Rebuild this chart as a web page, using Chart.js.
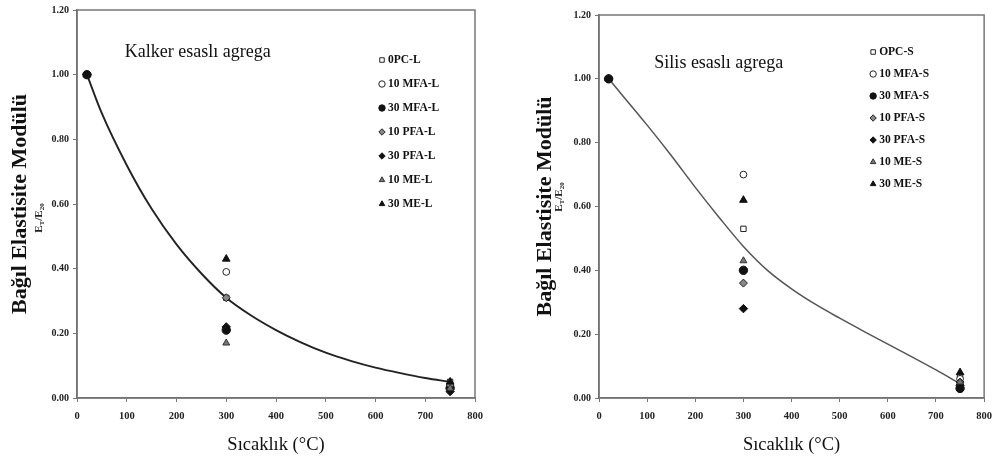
<!DOCTYPE html>
<html>
<head>
<meta charset="utf-8">
<script src="https://cdn.jsdelivr.net/npm/chart.js@4/dist/chart.umd.min.js"></script>
<style>
html,body{margin:0;padding:0;background:#fff;}
#wrap{position:relative;width:1000px;height:466px;}
.box{position:absolute;top:0;width:500px;height:466px;}
</style>
</head>
<body>
<div id="wrap">
  <div class="box" style="left:0"><canvas id="c1"></canvas></div>
  <div class="box" style="left:500px"><canvas id="c2"></canvas></div>
</div>
<script>
// ---------------- DATA ----------------
const temperatures = [20, 300, 750];

const kalkerLabels = ['0PC-L', '10 MFA-L', '30 MFA-L', '10 PFA-L', '30 PFA-L', '10 ME-L', '30 ME-L'];
const kalkerValues = [
  [1.00, 0.31, 0.05],
  [1.00, 0.39, 0.04],
  [1.00, 0.21, 0.03],
  [1.00, 0.31, 0.04],
  [1.00, 0.22, 0.02],
  [1.00, 0.17, 0.03],
  [1.00, 0.43, 0.05]
];
const kalkerCurveX = [20, 50, 100, 150, 200, 250, 300, 350, 400, 450, 500, 550, 600, 650, 700, 750];
const kalkerCurveY = [1.00, 0.88, 0.72, 0.585, 0.475, 0.385, 0.31, 0.255, 0.21, 0.172, 0.14, 0.115, 0.094, 0.077, 0.062, 0.05];

const silisLabels = ['OPC-S', '10 MFA-S', '30 MFA-S', '10 PFA-S', '30 PFA-S', '10 ME-S', '30 ME-S'];
const silisValues = [
  [1.00, 0.53, 0.07],
  [1.00, 0.70, 0.06],
  [1.00, 0.40, 0.03],
  [1.00, 0.36, 0.05],
  [1.00, 0.28, 0.04],
  [1.00, 0.43, 0.05],
  [1.00, 0.62, 0.08]
];
const silisCurveX = [20, 100, 150, 200, 250, 300, 350, 400, 450, 500, 550, 600, 650, 700, 750];
const silisCurveY = [1.00, 0.855, 0.76, 0.66, 0.565, 0.475, 0.40, 0.342, 0.293, 0.25, 0.209, 0.169, 0.129, 0.088, 0.045];

const yTickDecimals = 2;
const xTitle = 'Sıcaklık (°C)';
const yTitle = 'Bağıl Elastisite Modülü';

// ---------------- STYLES ----------------
const SERIF = "'Liberation Serif', 'DejaVu Serif', serif";
const markerStyles = [
  {pointStyle: 'rect',     backgroundColor: '#ffffff', borderColor: '#222', radius: 3.8},
  {pointStyle: 'circle',   backgroundColor: '#ffffff', borderColor: '#222', radius: 3.4},
  {pointStyle: 'circle',   backgroundColor: '#111111', borderColor: '#111', radius: 4.2},
  {pointStyle: 'rectRot',  backgroundColor: '#888888', borderColor: '#222', radius: 4},
  {pointStyle: 'rectRot',  backgroundColor: '#111111', borderColor: '#111', radius: 4.2},
  {pointStyle: 'triangle', backgroundColor: '#777777', borderColor: '#333', radius: 4},
  {pointStyle: 'triangle', backgroundColor: '#111111', borderColor: '#111', radius: 4.4}
];

function buildDatasets(labels, values, curveX, curveY, curveColor, curveWidth) {
  const ds = [];
  ds.push({
    type: 'line',
    label: '',
    isCurve: true,
    data: curveX.map((x, i) => ({x: x, y: curveY[i]})),
    borderColor: curveColor,
    borderWidth: curveWidth,
    pointRadius: 0,
    fill: false,
    cubicInterpolationMode: 'monotone',
    order: 20
  });
  labels.forEach((lab, i) => {
    const st = markerStyles[i];
    ds.push({
      type: 'scatter',
      label: lab,
      data: temperatures.map((t, j) => ({x: t, y: values[i][j]})),
      pointStyle: st.pointStyle,
      backgroundColor: st.backgroundColor,
      borderColor: st.borderColor,
      borderWidth: 1,
      pointRadius: st.radius,
      pointHoverRadius: st.radius,
      order: 10 - i
    });
  });
  return ds;
}

// frame plugin
const framePlugin = {
  id: 'frame',
  afterDraw(chart) {
    const a = chart.chartArea, ctx = chart.ctx;
    ctx.save();
    ctx.strokeStyle = '#777';
    ctx.lineWidth = 1.5;
    ctx.strokeRect(a.left, a.top, a.right - a.left, a.bottom - a.top);
    ctx.restore();
  }
};

// in-plot legend, annotation and secondary y label
const extrasPlugin = {
  id: 'extras',
  afterDatasetsDraw(chart, args, opts) {
    const ctx = chart.ctx, a = chart.chartArea;
    const xs = chart.scales.x, ys = chart.scales.y;
    ctx.save();
    // annotation
    ctx.fillStyle = '#111';
    ctx.font = '18px ' + SERIF;
    ctx.textAlign = 'left';
    ctx.textBaseline = 'middle';
    ctx.fillText(opts.note, xs.getPixelForValue(opts.noteX), ys.getPixelForValue(opts.noteY));
    // legend
    let y = a.top + opts.legTop;
    chart.data.datasets.forEach((d) => {
      if (d.isCurve) return;
      const x = a.right - opts.legRight;
      ctx.fillStyle = d.backgroundColor;
      ctx.strokeStyle = d.borderColor;
      ctx.lineWidth = 1;
      Chart.helpers.drawPoint(ctx, {pointStyle: d.pointStyle, radius: Math.min(d.pointRadius, 3.2), borderWidth: 1, rotation: 0}, x, y);
      ctx.fillStyle = '#111';
      ctx.font = 'bold 11.5px ' + SERIF;
      ctx.textAlign = 'left';
      ctx.textBaseline = 'middle';
      ctx.fillText(d.label, x + 6, y + 0.5);
      y += opts.legStep;
    });
    // E_T / E_20 label, rotated
    ctx.translate(opts.eX, opts.eY);
    ctx.rotate(-Math.PI / 2);
    ctx.fillStyle = '#222';
    ctx.textBaseline = 'alphabetic';
    const parts = [['E', 11, 0], ['T', 7, 2], ['/E', 11, 0], ['20', 7, 2]];
    let total = 0;
    parts.forEach(p => { ctx.font = 'bold ' + p[1] + 'px ' + SERIF; total += ctx.measureText(p[0]).width; });
    let px = -total / 2;
    parts.forEach(p => {
      ctx.font = 'bold ' + p[1] + 'px ' + SERIF;
      ctx.fillText(p[0], px, 4 + p[2]);
      px += ctx.measureText(p[0]).width;
    });
    ctx.restore();
  }
};

function makeChart(id, datasets, o) {
  return new Chart(document.getElementById(id), {
    data: {datasets: datasets},
    plugins: [framePlugin, extrasPlugin],
    options: {
      responsive: true,
      maintainAspectRatio: false,
      animation: false,
      events: [],
      layout: {padding: {left: 0, right: o.padRight, top: o.padTop, bottom: 0}},
      plugins: {
        legend: {display: false},
        tooltip: {enabled: false},
        extras: o.extras
      },
      scales: {
        x: {
          type: 'linear', min: 0, max: 800,
          afterFit(s) { s.height = 68; },
          ticks: {stepSize: 100, color: '#222', font: {family: SERIF, size: 10.5, weight: 'bold'}, padding: 8, maxRotation: 0},
          grid: {drawOnChartArea: false, drawTicks: true, tickLength: 4, color: '#777'},
          border: {display: true, color: '#666', width: 1.5},
          title: {display: true, text: xTitle, color: '#111', font: {family: SERIF, size: 18.5}, padding: {top: 4, bottom: 10}}
        },
        y: {
          type: 'linear', min: 0, max: 1.2,
          afterFit(s) { s.width = o.yWidth; },
          ticks: {stepSize: 0.2, color: '#222', font: {family: SERIF, size: 10, weight: 'bold'}, padding: 4,
            callback: v => Number(v).toFixed(yTickDecimals)},
          grid: {drawOnChartArea: false, drawTicks: true, tickLength: 4, color: '#777'},
          border: {display: true, color: '#666', width: 1.5},
          title: {display: true, text: yTitle, color: '#111', font: {family: SERIF, size: 22, weight: 'bold'}, padding: {top: o.yTitlePad, bottom: 0}}
        }
      }
    }
  });
}

makeChart('c1', buildDatasets(kalkerLabels, kalkerValues, kalkerCurveX, kalkerCurveY, '#222', 1.9), {
  padRight: 25, padTop: 9, yWidth: 77, yTitlePad: 7,
  extras: {note: 'Kalker esaslı agrega', noteX: 96, noteY: 1.07, legRight: 93, legTop: 50, legStep: 24, eX: 38, eY: 218}
});
makeChart('c2', buildDatasets(silisLabels, silisValues, silisCurveX, silisCurveY, '#555', 1.5), {
  padRight: 12, padTop: 15, yWidth: 99, yTitlePad: 32,
  extras: {note: 'Silis esaslı agrega', noteX: 115, noteY: 1.05, legRight: 111, legTop: 37, legStep: 22, eX: 58, eY: 197}
});
</script>
</body>
</html>
